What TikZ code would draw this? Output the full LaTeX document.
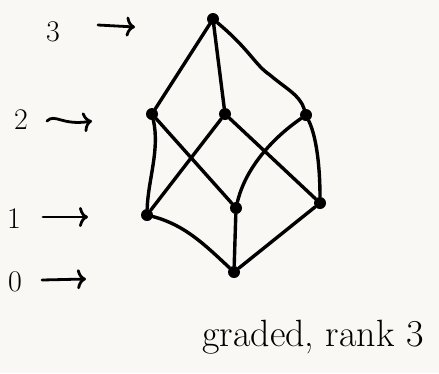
\documentclass[tikz,border=0pt]{standalone}
\usepackage{fontspec}
\usetikzlibrary{arrows.meta}
\definecolor{paper}{HTML}{FAF8F4}
\begin{document}
\begin{tikzpicture}[x=1pt,y=-1pt,
  vtx/.style={circle,fill=black,inner sep=0pt,minimum size=12pt},
  edge/.style={line width=3.4pt,line cap=round},
  lbl/.style={font=\fontsize{30}{32}\selectfont,inner sep=0pt},
  rankarrow/.style={line width=2.8pt,line cap=round,-{To[length=9pt,width=20pt,line width=2.8pt]}}]
\fill[paper] (0,0) rectangle (439,373);
\useasboundingbox (0,0) rectangle (439,373);
% vertices
\node[vtx] (t) at (213,19) {};
\node[vtx] (a2) at (152,114) {};
\node[vtx] (b2) at (225,114) {};
\node[vtx] (c2) at (306,115) {};
\node[vtx] (a1) at (147,215) {};
\node[vtx] (b1) at (236,208) {};
\node[vtx] (c1) at (320,203) {};
\node[vtx] (z) at (234,272) {};
% edges
\draw[edge] (t) -- (a2);
\draw[edge] (t) -- (b2);
\draw[edge] (t) .. controls (250,50) and (255,65) .. (270,75) .. controls (285,88) and (300,95) .. (c2);
\draw[edge] (a2) .. controls (160,150) and (148,180) .. (a1);
\draw[edge] (a2) -- (b1);
\draw[edge] (b2) -- (a1);
\draw[edge] (b2) -- (c1);
\draw[edge] (c2) .. controls (270,140) and (245,170) .. (b1);
\draw[edge] (c2) .. controls (318,140) and (320,175) .. (c1);
\draw[edge] (a1) .. controls (185,225) and (205,245) .. (z);
\draw[edge] (b1) -- (z);
\draw[edge] (c1) -- (z);
% rank labels
\node[lbl] (l3) at (53,32) {3};
\node[lbl] (l2) at (21,120) {2};
\node[lbl] (l1) at (14,219) {1};
\node[lbl] (l0) at (15,282) {0};
\coordinate (e3) at (135,27);
\coordinate (e2) at (92,121);
\coordinate (e1) at (88,217);
\coordinate (e0) at (86,279);
\draw[rankarrow] (98,25) -- (e3);
\draw[rankarrow] (47,121) .. controls (55,113) and (62,126) .. (e2);
\draw[rankarrow] (43,217) -- (e1);
\draw[rankarrow] (42,280) -- (e0);
% caption
\node[font=\fontsize{38}{42}\selectfont,inner sep=0pt] (cap) at (313,337) {graded, rank 3};
\end{tikzpicture}
\end{document}
